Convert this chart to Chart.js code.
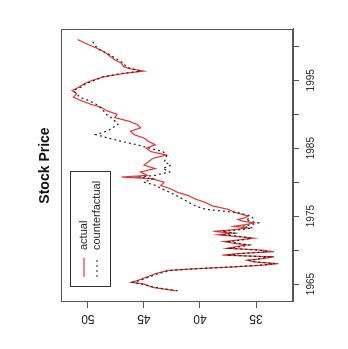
<!DOCTYPE html>
<html>
<head>
<meta charset="utf-8">
<script src="https://cdn.jsdelivr.net/npm/chart.js@4/dist/chart.umd.min.js"></script>
</head>
<body style="margin:0;background:#fff;overflow:hidden;width:348px;height:349px">
<!-- the R plot was rotated a quarter turn, so draw it upright and turn the canvas -->
<canvas id="stockChart" width="349" height="349"
  style="position:absolute;left:0;top:0;transform:rotate(-90deg)"></canvas>
<script>
// Time axis (years) and the two price series
var years = [
  1964.0, 1964.5, 1965.0, 1965.25, 1965.5, 1966.0, 1966.5, 1967.0, 1967.25, 1967.5,
  1967.75, 1968.0, 1968.25, 1968.5, 1968.75, 1969.0, 1969.25, 1969.5, 1969.75, 1970.0,
  1970.25, 1970.5, 1970.75, 1971.0, 1971.25, 1971.5, 1971.75, 1972.0, 1972.25, 1972.5,
  1972.75, 1973.0, 1973.25, 1973.5, 1973.75, 1974.0, 1974.25, 1974.5, 1974.75, 1975.0,
  1975.5, 1976.0, 1976.5, 1977.0, 1977.5, 1978.0, 1978.5, 1979.0, 1979.5, 1980.0,
  1980.5, 1980.75, 1981.0, 1981.5, 1982.0, 1982.5, 1983.0, 1983.5, 1984.0, 1984.5,
  1985.0, 1985.5, 1986.0, 1986.5, 1987.0, 1987.5, 1988.0, 1988.5, 1989.0, 1989.5,
  1990.0, 1990.5, 1991.0, 1991.5, 1992.0, 1992.5, 1993.0, 1993.5, 1994.0, 1994.5,
  1995.0, 1995.5, 1996.0, 1996.35, 1996.75, 1997.0, 1997.5, 1998.0, 1998.5, 1999.0,
  1999.5, 2000.0, 2000.5, 2001.0
];
var actual = [
  42.2, 44.2, 45.0, 46.1, 45.6, 44.8, 44.0, 42.9, 40.5, 37.2,
  34.6, 33.0, 35.2, 35.8, 34.3, 33.4, 38.0, 36.5, 33.4, 34.5,
  37.6, 36.8, 35.8, 37.0, 37.9, 36.5, 35.2, 36.8, 38.4, 37.2,
  38.8, 37.0, 35.8, 37.0, 35.9, 35.2, 36.2, 36.6, 36.0, 35.7,
  36.8, 37.5, 38.9, 39.5, 40.4, 41.0, 42.0, 42.6, 43.5, 43.2,
  44.3, 47.0, 44.7, 45.3, 44.0, 45.0, 44.6, 44.2, 43.0, 44.4,
  44.8, 44.0, 44.6, 45.0, 45.9, 46.2, 45.3, 45.6, 46.4, 47.6,
  47.4, 48.3, 48.8, 49.8, 50.6, 51.3, 51.0, 51.4, 50.8, 50.3,
  49.6, 48.6, 46.8, 45.0, 46.4, 46.8, 47.0, 47.6, 48.0, 48.4,
  48.9, 49.6, 50.3, 50.9
];
var counterfactual = [
  42.0, 44.0, 45.3, 46.0, 45.4, 44.6, 43.8, 42.6, 40.2, 37.4,
  34.8, 33.3, 35.0, 35.6, 34.6, 33.8, 37.6, 36.3, 34.0, 34.8,
  37.3, 36.4, 35.6, 36.6, 37.4, 36.2, 35.4, 36.4, 37.8, 36.9,
  38.0, 36.4, 35.3, 36.2, 35.4, 34.8, 35.6, 35.9, 35.3, 35.4,
  36.6, 39.5, 40.4, 41.0, 41.5, 42.1, 42.7, 43.4, 43.9, 45.0,
  44.2, 45.4, 44.0, 42.7, 43.3, 42.6, 43.2, 43.0, 43.0, 43.3,
  44.5, 45.6, 47.0, 48.2, 49.3, 48.3, 47.8, 47.3, 47.6, 47.9,
  48.4, 48.6, 48.9, 49.3, 49.9, 50.7, 51.0, 51.3, 50.6, 50.2,
  49.4, 48.7, 47.0, 45.3, 46.2, 46.6, 46.8, 47.3, 47.8, 48.3,
  49.0, 49.3, 49.5, 49.7
];
var yearTicks = [1965, 1970, 1975, 1980, 1985, 1990, 1995, 2000];
var yearLabels = [1965, 1975, 1985, 1995];
var priceTicks = [35, 40, 45, 50];
var seriesNames = ["actual", "counterfactual"];

var fontFamily = "'Liberation Sans', Arial, sans-serif";
var axisColor = "#555";

function toPoints(values) {
    return values.map(function (v, i) { return { x: years[i], y: v }; });
}

// box round the plot, title over the plot region and the legend
var rStylePlot = {
    id: "rStylePlot",
    afterDatasetsDraw: function (chart) {
        var ctx = chart.ctx;
        var a = chart.chartArea;
        ctx.save();
        ctx.strokeStyle = axisColor;
        ctx.lineWidth = 1;
        ctx.strokeRect(a.left + 0.5, a.top + 0.5, a.right - a.left - 1, a.bottom - a.top - 1);

        ctx.fillStyle = "#111";
        ctx.font = "bold 14px " + fontFamily;
        ctx.textAlign = "center";
        ctx.textBaseline = "middle";
        ctx.fillText("Stock Price", (a.left + a.right) / 2, 45);

        var x0 = a.left + 15, y0 = a.top + 9;
        ctx.strokeStyle = "#333";
        ctx.strokeRect(x0 + 0.5, y0 + 0.5, 115, 40);
        ctx.font = "11px " + fontFamily;
        ctx.textAlign = "left";
        chart.data.datasets.forEach(function (ds, i) {
            var rowY = y0 + 14 + i * 13;
            ctx.strokeStyle = ds.borderColor;
            ctx.lineWidth = ds.borderWidth;
            ctx.setLineDash(ds.borderDash || []);
            ctx.beginPath();
            ctx.moveTo(x0 + 10, rowY);
            ctx.lineTo(x0 + 29, rowY);
            ctx.stroke();
            ctx.setLineDash([]);
            ctx.fillStyle = "#222";
            ctx.fillText(ds.label, x0 + 37, rowY);
        });
        ctx.restore();
    }
};

var ctx = document.getElementById("stockChart").getContext("2d");

new Chart(ctx, {
    type: "line",
    data: {
        datasets: [
            {
                label: seriesNames[0],
                data: toPoints(actual),
                borderColor: "rgb(236, 50, 50)",
                borderWidth: 1.2,
                order: 1
            },
            {
                label: seriesNames[1],
                data: toPoints(counterfactual),
                borderColor: "#222",
                borderWidth: 1.2,
                borderDash: [2, 3],
                order: 0
            }
        ]
    },
    options: {
        responsive: false,
        animation: false,
        events: [],
        layout: { padding: { top: 61, right: 29, left: 0, bottom: 0 } },
        elements: { point: { radius: 0 }, line: { tension: 0 } },
        plugins: { legend: { display: false }, tooltip: { enabled: false } },
        scales: {
            x: {
                type: "linear",
                min: 1962.35,
                max: 2002.55,
                afterBuildTicks: function (s) {
                    s.ticks = yearTicks.map(function (v) { return { value: v }; });
                },
                afterFit: function (s) { s.height = 56; },
                grid: { drawOnChartArea: false, tickLength: 6, color: axisColor },
                border: { color: axisColor },
                ticks: {
                    autoSkip: false,
                    maxRotation: 0,
                    padding: 6,
                    color: "#222",
                    font: { family: fontFamily, size: 10 },
                    callback: function (v) { return yearLabels.indexOf(v) >= 0 ? String(v) : ""; }
                }
            },
            y: {
                min: 31.7,
                max: 52.4,
                afterBuildTicks: function (s) {
                    s.ticks = priceTicks.map(function (v) { return { value: v }; });
                },
                afterFit: function (s) { s.width = 47; },
                grid: { drawOnChartArea: false, tickLength: 6, color: axisColor },
                border: { color: axisColor },
                ticks: {
                    minRotation: 90,
                    maxRotation: 90,
                    crossAlign: "center",
                    padding: 4,
                    color: "#222",
                    font: { family: fontFamily, size: 12 }
                }
            }
        }
    },
    plugins: [rStylePlot]
});
</script>
</body>
</html>
